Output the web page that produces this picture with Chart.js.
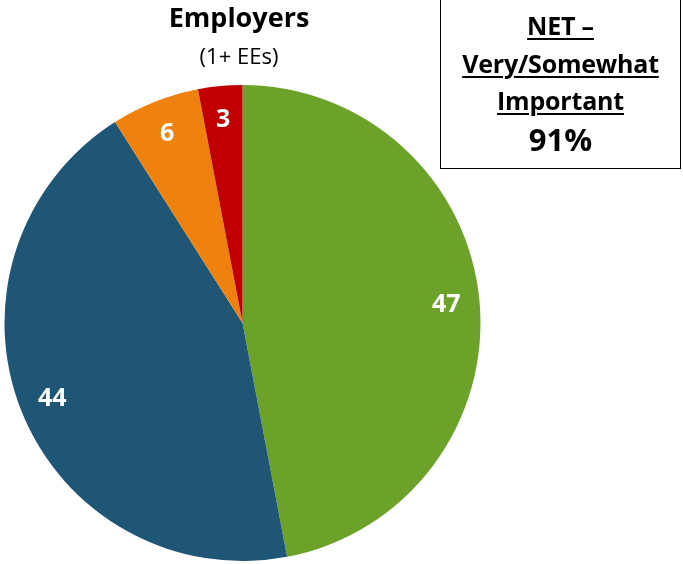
<!DOCTYPE html>
<html>
<head>
<meta charset="utf-8">
<script src="https://cdn.jsdelivr.net/npm/chart.js@4/dist/chart.umd.min.js"></script>
<style>
  html, body { margin: 0; padding: 0; background: #fff; }
  #wrap { position: relative; width: 683px; height: 564px; overflow: hidden; font-family: "Open Sans", sans-serif; }
  #chart { position: absolute; left: 0; top: 0; }
  .title { position: absolute; left: 124px; width: 230px; text-align: center; color: #000; white-space: nowrap; }
  #t1 { top: -2px; font-size: 27px; font-weight: bold; }
  #t2 { top: 40px; font-size: 22px; }
  #net { position: absolute; left: 440px; top: -2px; width: 241px; height: 171px; border: 1.5px solid #000; box-sizing: border-box; text-align: center; color: #000; }
  #net .l { font-size: 25px; font-weight: bold; text-decoration: underline; text-decoration-thickness: 2px; text-underline-offset: 3px; line-height: 37.5px; letter-spacing: -0.2px; }
  #net .v { font-size: 31px; font-weight: bold; line-height: 38px; }
</style>
</head>
<body>
<div id="wrap">
  <canvas id="chart" width="683" height="564"></canvas>
  <div class="title" id="t1">Employers</div>
  <div class="title" id="t2">(1+ EEs)</div>
  <div id="net">
    <div style="height:8px"></div>
    <div class="l">NET –</div>
    <div class="l">Very/Somewhat</div>
    <div class="l">Important</div>
    <div class="v">91%</div>
  </div>
</div>
<script>
const categories = ["Very important", "Somewhat important", "Not too important", "Not at all important"];
const values = [47, 44, 6, 3];
const colors = ["#6CA22A", "#1F5676", "#EF820E", "#C00000"];

// Writes each slice's value in white inside the slice
const sliceLabels = {
  id: "sliceLabels",
  afterDatasetsDraw(chart) {
    const ctx = chart.ctx;
    const meta = chart.getDatasetMeta(0);
    ctx.save();
    ctx.fillStyle = "#fff";
    ctx.font = "bold 25px 'Open Sans', sans-serif";
    ctx.textAlign = "center";
    ctx.textBaseline = "middle";
    meta.data.forEach((arc, i) => {
      const p = arc.getProps(["x", "y", "startAngle", "endAngle", "outerRadius"], true);
      const mid = (p.startAngle + p.endAngle) / 2;
      const r = p.outerRadius * 0.86;
      ctx.fillText(String(values[i]), p.x + Math.cos(mid) * r, p.y + Math.sin(mid) * r + 1);
    });
    ctx.restore();
  }
};

new Chart(document.getElementById("chart"), {
  type: "pie",
  data: {
    labels: categories,
    datasets: [{
      data: values,
      backgroundColor: colors,
      borderWidth: 0
    }]
  },
  options: {
    responsive: false,
    animation: false,
    layout: { padding: { left: 4, right: 202, top: 85, bottom: 3 } },
    plugins: {
      legend: { display: false },
      tooltip: { enabled: false }
    }
  },
  plugins: [sliceLabels]
});
</script>
</body>
</html>
